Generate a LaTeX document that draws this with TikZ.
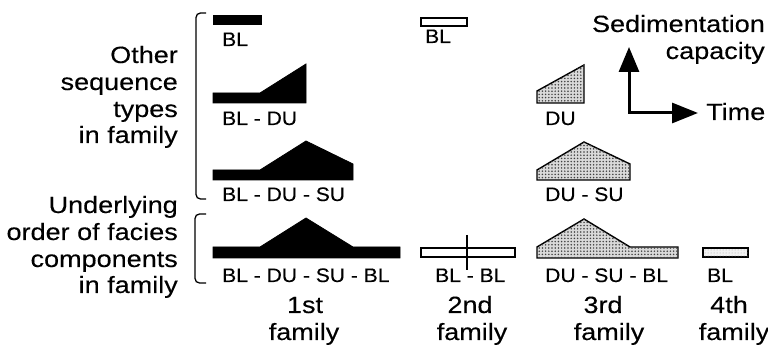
\documentclass[tikz,border=0pt]{standalone}
\usepackage{fontspec}
\newfontfamily\bigfont{Liberation Sans}[FakeStretch=1.15,FakeBold=0.25]
\newfontfamily\labfont{Liberation Sans}[FakeStretch=1.08,FakeBold=0.2]
\usetikzlibrary{arrows.meta,patterns}

% fine stipple used for the shaded sequences
\pgfdeclarepatternformonly{stipple}{\pgfqpoint{-1pt}{-1pt}}{\pgfqpoint{4.5pt}{4.5pt}}{\pgfqpoint{3.2pt}{3.2pt}}{%
  \pgfpathcircle{\pgfqpoint{1.6pt}{1.6pt}}{0.85pt}\pgfusepath{fill}}

\tikzset{
  caption/.style={font=\bigfont\fontsize{23.5}{27}\selectfont, inner sep=0pt},
  capright/.style={caption, anchor=base east},
  capmid/.style={caption, anchor=base},
  seqlabel/.style={font=\labfont\fontsize{19.5}{23}\selectfont, inner sep=0pt, anchor=base west},
  solidseq/.style={fill=black, draw=black, line width=0.8pt, line join=miter},
  openseq/.style={fill=white, draw=black, line width=1.3pt},
  stippleseq/.style={draw=black, line width=1.4pt, fill=gray!30,
    postaction={pattern=stipple, pattern color=black!75}},
  lightseq/.style={draw=black, line width=1.3pt, fill=gray!10,
    postaction={pattern=dots, pattern color=gray!70}},
  bracket/.style={line width=1.3pt, rounded corners=4.5pt},
  axis/.style={line width=3pt, line join=miter,
    {Triangle[length=25pt,width=20pt]}-{Triangle[length=26pt,width=20pt]}}
}

\begin{document}
\begin{tikzpicture}[x=1pt, y=-1pt]
\useasboundingbox (0,0) rectangle (768,352);

% row captions on the left
\node[capright] (o1) at (178,63)  {Other};
\node[capright] (o2) at (178,90)  {sequence};
\node[capright] (o3) at (178,117) {types};
\node[capright] (o4) at (178,143) {in family};
\node[capright] (u1) at (178,213) {Underlying};
\node[capright] (u2) at (178,240) {order of facies};
\node[capright] (u3) at (178,267) {components};
\node[capright] (u4) at (178,293) {in family};

% brackets grouping the rows
\draw[bracket] (206,13) -- (196,13) -- (196,199) -- (206,199);
\draw[bracket] (206,214) -- (195,214) -- (195,283) -- (206,283);

% 1st family (solid)
\fill[solidseq] (213,15) rectangle (261,24);
\node[seqlabel] (f1a) at (222,46) {BL};
\fill[solidseq] (213,103) -- (213,93) -- (260,93) -- (306,64) -- (306,103) -- cycle;
\node[seqlabel] (f1b) at (222,125) {BL - DU};
\fill[solidseq] (213,180) -- (213,170) -- (260,170) -- (306,141) -- (353,164) -- (353,180) -- cycle;
\node[seqlabel] (f1c) at (222,201) {BL - DU - SU};
\fill[solidseq] (213,258) -- (213,247) -- (260,247) -- (306,218) -- (353,247) -- (400,247) -- (400,258) -- cycle;
\node[seqlabel] (f1d) at (222,282) {BL - DU - SU - BL};

% 2nd family (open)
\filldraw[openseq] (421,18) rectangle (467,26);
\node[seqlabel] (f2a) at (425,43) {BL};
\filldraw[openseq] (421,248) rectangle (515,257);
\draw[line width=1.2pt] (467,235) -- (467,270);
\node[seqlabel] (f2b) at (435,282) {BL - BL};

% 3rd family (stippled)
\filldraw[stippleseq] (537,103) -- (537,91) -- (584,65) -- (584,103) -- cycle;
\node[seqlabel] (f3a) at (545,125) {DU};
\filldraw[stippleseq] (537,180) -- (537,170) -- (584,142) -- (630,164) -- (630,180) -- cycle;
\node[seqlabel] (f3b) at (545,201) {DU - SU};
\filldraw[stippleseq] (537,258) -- (537,247) -- (584,219) -- (630,247) -- (678,247) -- (678,258) -- cycle;
\node[seqlabel] (f3c) at (545,282) {DU - SU - BL};

% 4th family (light stipple)
\filldraw[lightseq] (703,248) rectangle (748,257);
\node[seqlabel] (f4a) at (707,282) {BL};

% family captions
\node[capmid] (n1) at (305,313) {1st};
\node[capmid] (m1) at (304,340) {family};
\node[capmid] (n2) at (470,313) {2nd};
\node[capmid] (m2) at (472,340) {family};
\node[capmid] (n3) at (603,313) {3rd};
\node[capmid] (m3) at (609,340) {family};
\node[capmid] (n4) at (729,313) {4th};
\node[capmid] (m4) at (734,340) {family};

% axes key
\coordinate (vtip) at (629,47);
\coordinate (htip) at (698,113);
\draw[axis] (vtip) |- (htip);
\node[capright] (s1) at (765,32) {Sedimentation};
\node[capright] (s2) at (765,59) {capacity};
\node[caption, anchor=base west] (t1) at (706,120) {Time};
\end{tikzpicture}
\end{document}
